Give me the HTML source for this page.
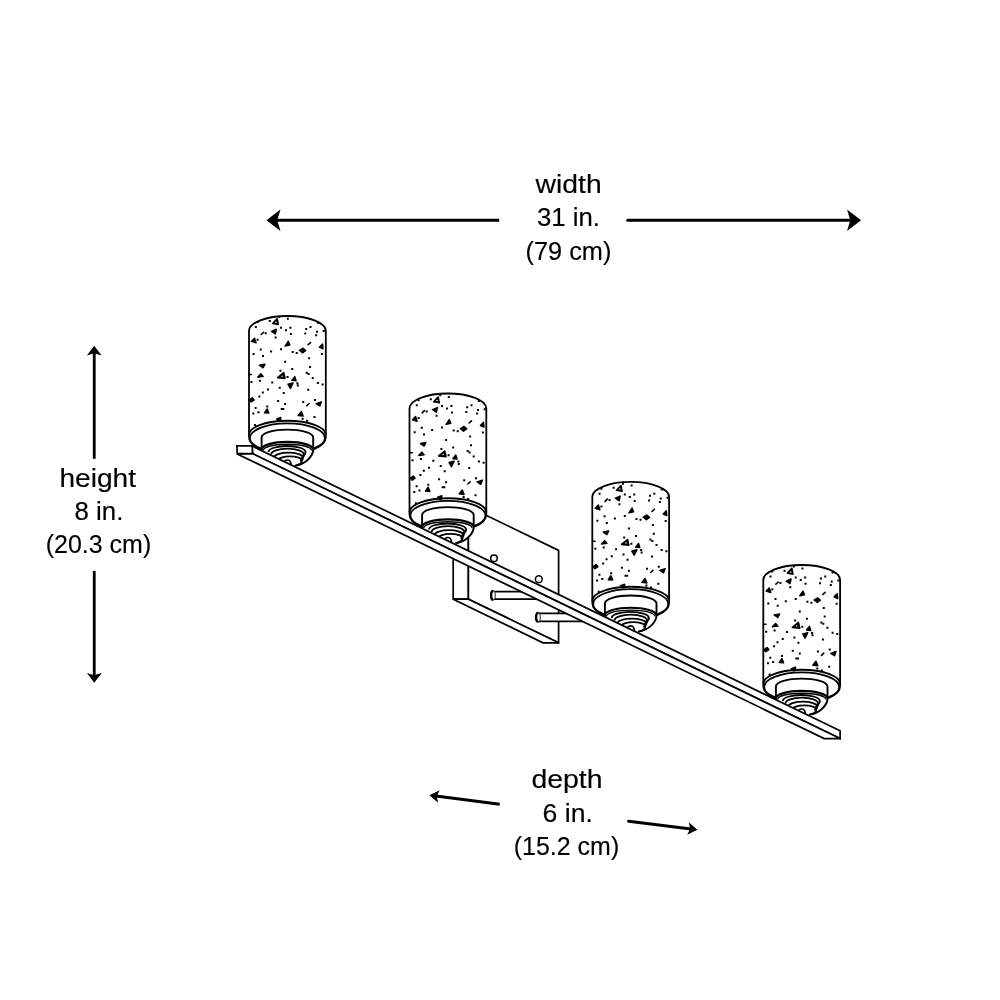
<!DOCTYPE html>
<html><head><meta charset="utf-8"><title>dimensions</title>
<style>
html,body{margin:0;padding:0;background:#fff;}
svg{display:block;will-change:transform;}
text{font-family:"Liberation Sans", sans-serif;fill:#000;stroke:#000;stroke-width:0.15px;}
</style></head>
<body>
<svg width="1000" height="1000" viewBox="0 0 1000 1000">
<defs>
<g id="body"><path d="M0,15 A38.4,15 0 0 1 76.8,15 V121 A38.4,17 0 0 1 0,121 Z" fill="#fff" stroke="#000" stroke-width="1.8"/></g>
<g id="spk">
 <path d="M22.64,15.38L27.35,13.31L26.31,17.91ZM2.46,25.37L5.57,22.27L7.06,26.87ZM36.16,30.05L39.27,25.34L40.77,29.01ZM70.41,31.17L73.52,28.06L73.97,32.77ZM10.51,49.23L15.91,48.2L14.07,51.77ZM8.73,61.18L11.84,57.85L14.13,60.38ZM42.9,64.34L45.77,60.66L47.03,64.8ZM39.09,68.28L44.03,67.01L41.38,72.42ZM15.5,96.86L18.14,92.95L19.87,97.09ZM67.11,87.68L72.29,85.84L70.8,89.98ZM49.15,99.55L52.26,95.64L54.09,100.12ZM50.48,34.28L54.05,32.21L56.69,34.51L53.59,36.81ZM0.17,84.12L3.28,81.82L5.12,83.89L2.24,85.96ZM27.7,102.91L31.84,101.42L31.27,104.98L29.2,104.98Z" fill="#000" stroke="#000" stroke-width="1.5" stroke-linejoin="round"/>
<path d="M28.14,2.75L23.77,7.46L29.18,8.49ZM28.73,61.69L34.7,56.74L35.97,62.38Z" fill="#000" stroke="#000" stroke-width="1.7" stroke-linejoin="round"/>
<circle cx="27.03" cy="6.23" r="0.75" fill="#fff"/>
<circle cx="33.13" cy="60.27" r="0.75" fill="#fff"/>
<path d="M12.2,18.5L14.5,16.3M59.2,28.7L61.5,26.6M57.8,89.7L60.1,87.5M-0.2,58.5L2.3,58.5" stroke="#000" stroke-width="1.6" stroke-linecap="round"/>
<path d="M20.8,5h0.01M38.8,2.8h0.01M6.8,10.9h0.01M32,11.8h0.01M37,14.2h0.01M16.7,17.2h0.01M8.6,23.7h0.01M26.6,21.5h0.01M11.8,33.4h0.01M22.1,35.6h0.01M32,33.2h0.01M4.6,37.9h0.01M30.2,0.9h0.01M8.6,5.9h0.01M41.4,11.8h0.01M41.9,18.1h0.01M57.2,12.9h0.01M61.5,10.9h0.01M56.3,17.6h0.01M68,15.8h0.01M67.1,19.2h0.01M43.7,36.1h0.01M47.7,37h0.01M72.9,38.1h0.01M74.7,14.9h0.01M68.9,6.8h0.01M14,40.1h0.01M36.1,45.7h0.01M31.4,54.7h0.01M38.6,61h0.01M10.9,64.8h0.01M2.5,66h0.01M23.3,66.4h0.01M30.7,71.8h0.01M19,73.4h0.01M13.8,76.5h0.01M34.7,77h0.01M10.4,80.6h0.01M60.1,42.3h0.01M61,50.9h0.01M43.2,53.1h0.01M57.6,56.7h0.01M59.6,58.1h0.01M63.7,62.1h0.01M68.9,67.1h0.01M73.6,68.4h0.01M59.2,73.8h0.01M48.4,67.3h0.01M48.8,69.6h0.01M29.1,85h0.01M36.1,87.9h0.01M18.3,90.4h0.01M6.6,92h0.01M9.5,96.3h0.01M4.3,97.6h0.01M32.7,92.9h0.01M34.3,92.9h0.01M5.9,108.9h0.01M54.2,85.9h0.01M66,83.9h0.01M65.5,101h0.01M53.6,102.8h0.01M58.1,104.8h0.01" stroke="#000" stroke-width="2.0" stroke-linecap="square"/>
</g>
<g id="bottom">
 <ellipse cx="38.4" cy="122" rx="37.5" ry="14.7" fill="#fff" stroke="#000" stroke-width="1.7"/>
 <path d="M0,118.8 A38.4,14 0 0 1 76.8,118.8" fill="none" stroke="#000" stroke-width="1.9"/>
 <path d="M12.6,121.5 A25.8,7.9 0 0 1 64.2,121.5 V134.5 C63,142 55,148.5 45.7,149.8 C30,152 16,146 12.6,134.5 Z" fill="#fff" stroke="none"/>
 <path d="M12.6,134.5 V121.5 A25.8,7.9 0 0 1 64.2,121.5 V134.5 C63,142 55,148.5 45.7,149.8" fill="none" stroke="#000" stroke-width="1.9"/>
 <path d="M12.6,133.5 A25.8,7.6 0 0 1 64.2,133.5" fill="none" stroke="#000" stroke-width="2.1"/>
 <path d="M14.2,134.5 A24.2,6.3 0 0 1 62.6,134.5" fill="none" stroke="#000" stroke-width="1.4"/>
 <path d="M19.5,136 A18.5,6 0 0 1 56.5,136 A18.5,6 0 0 1 53,140" fill="none" stroke="#000" stroke-width="1.8"/>
 <path d="M22.1,138.5 A16.4,5.8 0 0 1 54.9,138.5 A16.4,5.8 0 0 1 52,142.5" fill="none" stroke="#000" stroke-width="1.8"/>
 <path d="M25.1,141.5 A14.4,4.8 0 0 1 53.9,141.5 A14.4,4.8 0 0 1 51,145" fill="none" stroke="#000" stroke-width="1.8"/>
 <path d="M29,144.5 A12,4.2 0 0 1 53,144.5 C53,147 51,148.5 47,149.5" fill="none" stroke="#000" stroke-width="1.8"/>
 <path d="M34.5,148 Q35,144 38.5,144 Q42.1,144 42.1,149.8" fill="none" stroke="#000" stroke-width="1.7"/>
</g>
</defs>
<rect width="1000" height="1000" fill="#fff"/>
<line x1="275" y1="220.2" x2="499.2" y2="220.2" stroke="#000" stroke-width="3"/>
<path d="M266.4,220.2L280.5,209.5L277.2,220.2L280.5,230.9Z" fill="#000"/>
<line x1="627.7" y1="220.2" x2="852" y2="220.2" stroke="#000" stroke-width="3" stroke-linecap="round"/>
<path d="M861.1,220.2L847,230.9L850.3,220.2L847,209.5Z" fill="#000"/>
<line x1="94.25" y1="352" x2="94.25" y2="458.75" stroke="#000" stroke-width="2.8"/>
<path d="M94.25,345.75L101.65,355.55L94.25,353.35L86.85,355.55Z" fill="#000"/>
<line x1="94.25" y1="571" x2="94.25" y2="677" stroke="#000" stroke-width="2.8"/>
<path d="M94.25,682.75L86.85,672.95L94.25,675.15L101.65,672.95Z" fill="#000"/>
<line x1="499.7" y1="804.3" x2="436" y2="796.1" stroke="#000" stroke-width="3"/>
<path d="M429.45,795.3L439.67,790.26L436.69,796.23L438.07,802.76Z" fill="#000"/>
<line x1="628.55" y1="821.2" x2="691" y2="829" stroke="#000" stroke-width="3" stroke-linecap="round"/>
<path d="M697.4,829.75L687.2,834.83L690.16,828.85L688.75,822.33Z" fill="#000"/>

<g fill="#fff" stroke="#000" stroke-width="1.7" stroke-linejoin="miter">
 <path d="M453.2,498 L468.4,506.7 V599.2 H453.2 Z"/>
 <path d="M468.4,506.7 L558.6,550.4 V642.8 L468.4,599.2 Z"/>
 <path d="M453.2,599.2 H468.4 L558.6,642.8 H543 Z"/>
 <circle cx="494" cy="558.2" r="3.3" stroke-width="1.5"/>
 <circle cx="538.8" cy="579.2" r="3.4" stroke-width="1.5"/>
 <path d="M493,591.6 H548 V599.2 H493 Z" stroke="none"/>
 <path d="M493,591.6 H548 M493,599.2 H548" fill="none"/>
 <ellipse cx="493.2" cy="595.4" rx="2.1" ry="4.4" stroke-width="0.9"/>
 <path d="M493.2,591 A2.1,4.4 0 0 0 493.2,599.8" fill="none" stroke-width="2.4"/>
 <path d="M538,613.3 H592 V621.3 H538 Z" stroke="none"/>
 <path d="M538,613.3 H592 M538,621.3 H592" fill="none"/>
 <ellipse cx="538.2" cy="617.3" rx="2.1" ry="4.4" stroke-width="0.9"/>
 <path d="M538.2,612.9 A2.1,4.4 0 0 0 538.2,621.7" fill="none" stroke-width="2.4"/>
</g>

<use href="#body" x="249" y="316"/><use href="#spk" x="249" y="316"/><use href="#bottom" x="249" y="316"/>
<use href="#body" x="409.5" y="393.5"/><use href="#spk" x="410" y="394.3"/><use href="#bottom" x="409.5" y="393.5"/>
<use href="#body" x="592.3" y="481.9"/><use href="#spk" x="592.8" y="482.8"/><use href="#bottom" x="592.3" y="481.9"/>
<use href="#body" x="763.3" y="565"/><use href="#spk" x="763.7" y="565.7"/><use href="#bottom" x="763.3" y="565"/>

<g fill="#fff" stroke="#000" stroke-width="1.7" stroke-linejoin="miter">
 <path d="M252.2,446.1 L840.1,730.8 V738.6 L252.5,453.6 Z"/>
 <path d="M252.5,453.6 L840.1,738.6 H824.2 L237.2,453.9 Z"/>
 <path d="M236.9,445.8 H252.2 L252.5,453.6 H237.2 Z"/>
</g>

<text x="568.65" y="193" font-size="26" textLength="66.1" lengthAdjust="spacingAndGlyphs" text-anchor="middle">width</text>
<text x="568.45" y="226" font-size="26" textLength="63.1" lengthAdjust="spacingAndGlyphs" text-anchor="middle">31 in.</text>
<text x="568.45" y="259.6" font-size="26" textLength="85.9" lengthAdjust="spacingAndGlyphs" text-anchor="middle">(79 cm)</text>
<text x="97.7" y="486.8" font-size="26" textLength="76.6" lengthAdjust="spacingAndGlyphs" text-anchor="middle">height</text>
<text x="99" y="519.8" font-size="26" textLength="48.8" lengthAdjust="spacingAndGlyphs" text-anchor="middle">8 in.</text>
<text x="98.5" y="553.4" font-size="26" textLength="105.4" lengthAdjust="spacingAndGlyphs" text-anchor="middle">(20.3 cm)</text>
<text x="567" y="788.2" font-size="26" textLength="71.2" lengthAdjust="spacingAndGlyphs" text-anchor="middle">depth</text>
<text x="567.7" y="821.8" font-size="26" textLength="50.2" lengthAdjust="spacingAndGlyphs" text-anchor="middle">6 in.</text>
<text x="566.5" y="854.8" font-size="26" textLength="105.4" lengthAdjust="spacingAndGlyphs" text-anchor="middle">(15.2 cm)</text>
</svg>
</body></html>
